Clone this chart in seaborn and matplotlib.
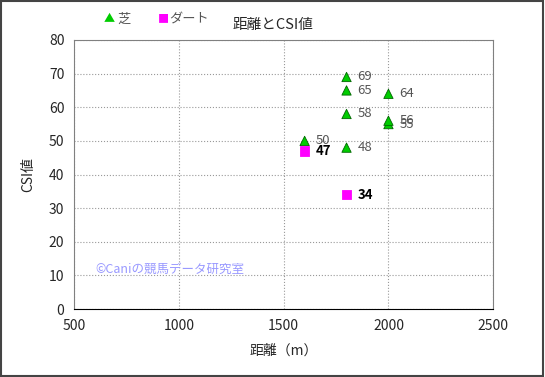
import matplotlib
matplotlib.use("Agg")
import matplotlib.pyplot as plt
import seaborn as sns
import pandas as pd

# 芝のデータ
turf_dist = [1600, 1800, 1800, 1800, 1800, 2000, 2000, 2000]
turf_csi = [50, 69, 65, 58, 48, 64, 55, 56]
# ダートのデータ
dirt_dist = [1600, 1800]
dirt_csi = [47, 34]

x_ticks = [500, 1000, 1500, 2000, 2500]
y_ticks = [0, 10, 20, 30, 40, 50, 60, 70, 80]

df = pd.DataFrame({
    "距離": turf_dist + dirt_dist,
    "CSI": turf_csi + dirt_csi,
    "馬場": ["芝"] * len(turf_dist) + ["ダート"] * len(dirt_dist),
})

sns.set_style("white")
plt.rcParams["font.family"] = ["Noto Sans CJK JP", "DejaVu Sans"]

fig = plt.figure(figsize=(5.45, 3.77), dpi=100)
ax = fig.add_axes([0.136, 0.180, 0.769, 0.714])

sns.scatterplot(data=df, x="距離", y="CSI", hue="馬場", style="馬場",
                palette={"芝": "#00cc00", "ダート": "#ff00ff"},
                markers={"芝": "^", "ダート": "s"},
                s=45, edgecolor="#006600", linewidth=0.6, ax=ax, legend=False, zorder=3)
# ダートのマーカーは縁なし
ax.collections[0].set_edgecolors(
    ["#006600"] * len(turf_dist) + ["#ff00ff"] * len(dirt_dist))

for x, y in zip(turf_dist, turf_csi):
    ax.annotate(str(y), (x, y), xytext=(8, 0), textcoords="offset points",
                va="center", fontsize=9.5, color="#555555")
for x, y in zip(dirt_dist, dirt_csi):
    ax.annotate(str(y), (x, y), xytext=(8, 0), textcoords="offset points",
                va="center", fontsize=9.5, color="black", fontweight="bold")

ax.set_xlim(500, 2500)
ax.set_ylim(0, 80)
ax.set_xticks(x_ticks)
ax.set_yticks(y_ticks)
ax.tick_params(labelsize=10, length=0, pad=7)
ax.grid(True, color="#999999", linestyle=":", linewidth=0.8)
for sp in ax.spines.values():
    sp.set_color("#808080")
ax.spines["bottom"].set_color("black")
ax.set_xlabel("距離（m）", fontsize=10, labelpad=8)
ax.set_ylabel("CSI値", fontsize=10, labelpad=10)

ax.text(0.05, 0.135, "©Caniの競馬データ研究室", transform=ax.transAxes,
        fontsize=9, color="#9999ff")

fig.text(0.5, 0.935, "距離とCSI値", ha="center", va="center", fontsize=10.5)
fig.text(0.19, 0.948, "▲", color="#00cc00", fontsize=8, va="center")
fig.text(0.215, 0.948, "芝", color="#555555", fontsize=9.5, va="center")
fig.text(0.29, 0.948, "■", color="#ff00ff", fontsize=8, va="center")
fig.text(0.31, 0.948, "ダート", color="#555555", fontsize=9.5, va="center")

fig.patches.append(plt.Rectangle((0.002, 0.003), 0.995, 0.994, transform=fig.transFigure,
                                 fill=False, edgecolor="#444444", linewidth=1.5))

fig.savefig("out.png", dpi=100)
